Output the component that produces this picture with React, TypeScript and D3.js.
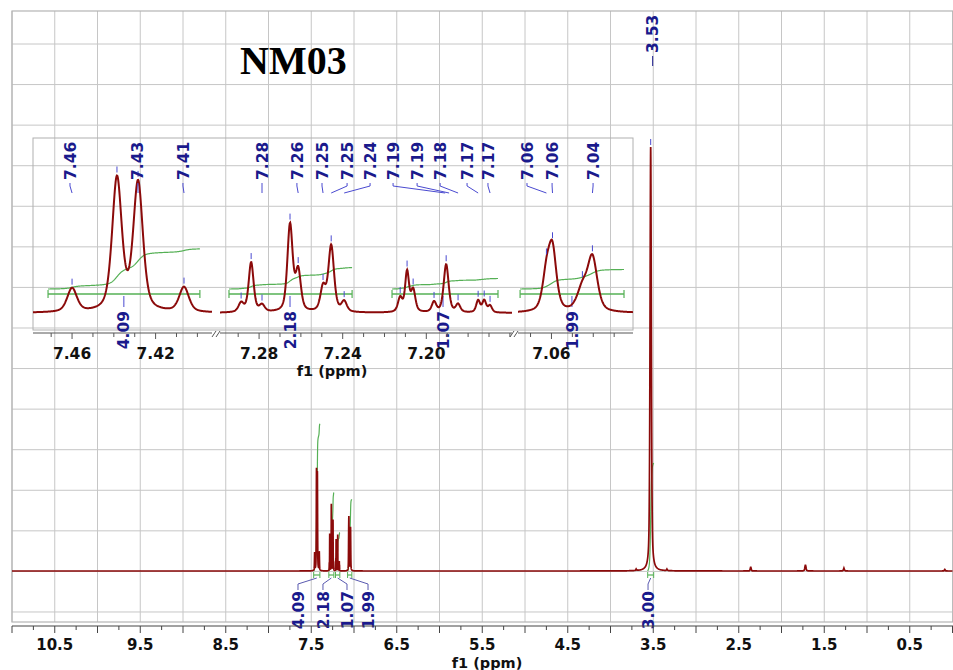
import React, { useMemo } from 'react';
import * as d3 from 'd3';

// ---------- data ----------
const aromaticPpm = [7.46, 7.4385, 7.4284, 7.4064, 7.2886, 7.2838, 7.2786, 7.2652, 7.2613, 7.2494, 7.2455, 7.2393, 7.2125, 7.2092, 7.2063, 7.1963, 7.1905, 7.1848, 7.1752, 7.1723, 7.1695, 7.0624, 7.0595, 7.0452, 7.0404];
const aromaticHeight = [4.2, 23.5, 22.7, 4.4, 1.6, 8.8, 1.2, 15.4, 7.1, 4.2, 11.7, 1.8, 2.5, 7.1, 3.9, 1.8, 8.5, 1.4, 2.1, 2.1, 1.2, 6.1, 10.4, 3.9, 9.4];
const aromaticWidth = [0.0055, 0.0055, 0.0055, 0.0055, 0.003, 0.0028, 0.003, 0.003, 0.003, 0.003, 0.0032, 0.003, 0.0025, 0.0022, 0.0025, 0.0025, 0.0028, 0.0025, 0.0022, 0.0022, 0.0022, 0.0045, 0.0045, 0.006, 0.0055];

const otherPpm = [3.53, 3.70, 3.34, 2.36, 1.72, 1.27, 0.09];
const otherHeight = [100, 0.35, 0.35, 1.0, 1.5, 0.7, 0.35];
const otherWidth = [0.018, 0.01, 0.01, 0.012, 0.015, 0.012, 0.012];

const integralFrom = [7.4715, 7.2944, 7.2164, 7.075, 3.565];
const integralTo = [7.3988, 7.2355, 7.1657, 7.0253, 3.495];
const integralValues = [4.09, 2.18, 1.07, 1.99, 3.0];
const integralMainLabelPpm = [7.655, 7.363, 7.082, 6.836, 3.561];
const integralInsetLabelPpm = [7.4352, 7.2652, 7.192, 7.0502];

const peakLabelText = ['7.46', '7.43', '7.41', '7.28', '7.26', '7.25', '7.25', '7.24', '7.19', '7.19', '7.18', '7.17', '7.17', '7.06', '7.06', '7.04'];
const peakLabelPos = [7.461, 7.4285, 7.4069, 7.2786, 7.2619, 7.2499, 7.2379, 7.2269, 7.2159, 7.2044, 7.1934, 7.1805, 7.1705, 7.0717, 7.0597, 7.0401];
const peakLabelTarget = [7.46, 7.4284, 7.4064, 7.2786, 7.2613, 7.2494, 7.2455, 7.2393, 7.191, 7.1891, 7.1848, 7.1752, 7.1695, 7.0624, 7.0595, 7.0404];

const mainTickLabels = [10.5, 9.5, 8.5, 7.5, 6.5, 5.5, 4.5, 3.5, 2.5, 1.5, 0.5];
const insetTickLabels = [7.46, 7.42, 7.28, 7.24, 7.2, 7.06];
const insetSegFrom = [7.4787, 7.2987, 7.076];
const insetSegTo = [7.393, 7.159, 7.021];
const mainLabelPpm = 3.53;
const titleText = 'NM03';

// ---------- helpers ----------
const allPpm = aromaticPpm.concat(otherPpm);
const allH = aromaticHeight.concat(otherHeight);
const allW = aromaticWidth.concat(otherWidth);

function pv(d: number, w: number) {
  const r = (d / w) * (d / w);
  return 0.5 / (1 + 4 * r) + 0.5 * Math.exp(-4 * Math.LN2 * r);
}
function spec(p: number) {
  let s = 0;
  for (let i = 0; i < allPpm.length; i++) s += allH[i] * pv(p - allPpm[i], allW[i]);
  return s;
}
function cumulative(from: number, to: number, n = 400) {
  const ps = d3.range(n + 1).map((i) => from + ((to - from) * i) / n);
  let acc = 0;
  const c = [0];
  for (let i = 1; i <= n; i++) {
    acc += (spec(ps[i - 1]) + spec(ps[i])) / 2;
    c.push(acc);
  }
  return ps.map((p, i) => ({ p, f: c[i] / acc }));
}

const BLUE = '#1a1a8c';
const RED = '#8b0a0a';
const GREEN = '#55b055';
const GRID = '#c6c6c6';
const LABEL_FONT = "'DejaVu Sans', Verdana, sans-serif";

export default function App() {
  const W = 953, H = 670;
  const xMain = d3.scaleLinear().domain([11, 0]).range([12, 952.5]);
  const yMain = d3.scaleLinear().domain([0, 100]).range([571, 147]);
  const yIntMain = d3.scaleLinear().domain([0, 1]).range([571, 535]);
  const gridY = d3.range(15).map((k) => 44 + k * 40.57);
  const gridX = d3.range(0, 11.01, 0.5);

  const segPx: [number, number][] = [[33, 212], [220, 512], [518, 633]];
  const segScales = insetSegFrom.map((f, i) => d3.scaleLinear().domain([f, insetSegTo[i]]).range(segPx[i]));
  const segOf = (p: number) => {
    for (let i = 0; i < insetSegFrom.length; i++) if (p <= insetSegFrom[i] + 1e-9 && p >= insetSegTo[i] - 1e-9) return i;
    return 0;
  };
  const xIns = (p: number) => segScales[segOf(p)](p);
  const yIns = d3.scaleLinear().domain([0, 10]).range([313, 256.5]);
  const yIntIns = d3.scaleLinear().domain([0, 1]).range([289, 279.2]);

  const mainPath = useMemo(() => {
    const s: number[] = [];
    const pushRange = (a: number, b: number, st: number) => {
      for (let p = a; p > b; p -= st) s.push(p);
    };
    pushRange(11, 7.52, 0.005);
    pushRange(7.52, 6.98, 0.0005);
    pushRange(6.98, 3.62, 0.005);
    pushRange(3.62, 3.45, 0.0005);
    pushRange(3.45, 0, 0.005);
    s.push(0);
    return d3.line<number>().x((p) => xMain(p)).y((p) => yMain(spec(p)))(s) || '';
  }, []);

  const insetPaths = useMemo(
    () =>
      insetSegFrom.map((f, i) => {
        const t = insetSegTo[i];
        const n = Math.round((f - t) / 0.0002);
        const ps = d3.range(n + 1).map((k) => f - ((f - t) * k) / n);
        return d3.line<number>().x((p) => segScales[i](p)).y((p) => yIns(spec(p)))(ps) || '';
      }),
    []
  );

  const mainIntegrals = integralFrom.map((f, i) => {
    const cum = cumulative(f, integralTo[i]);
    return d3.line<{ p: number; f: number }>()
      .x((d) => xMain(d.p))
      .y((d) => yMain(0) - (yMain(0) - yIntMain(1)) * d.f * integralValues[i])(cum) || '';
  });
  const insetIntegrals = integralFrom.slice(0, 4).map((f, i) => {
    const cum = cumulative(f, integralTo[i]);
    return d3.line<{ p: number; f: number }>()
      .x((d) => xIns(d.p))
      .y((d) => yIntIns(0) - (yIntIns(0) - yIntIns(1)) * d.f * integralValues[i])(cum) || '';
  });

  const mainMinor = d3.range(0, 11.001, 0.25);
  const insetTicks = insetSegFrom.map((f, i) => d3.range(Math.ceil(insetSegTo[i] * 100 - 1e-6), Math.floor(f * 100 + 1e-6) + 1).map((k) => k / 100));

  const rotText = (x: number, y: number, txt: string, anchor: 'start' | 'end', size = 15) => (
    <text transform={`translate(${x},${y}) rotate(-90)`} dy="0.36em" textAnchor={anchor} fontFamily={LABEL_FONT} fontWeight="bold" fontSize={size} fill={BLUE}>
      {txt}
    </text>
  );

  const peakTopMain = yMain(spec(mainLabelPpm));

  return (
    <svg width={W} height={H} style={{ position: 'absolute', left: 0, top: 0, background: '#fff' }}>
      <rect x={0} y={0} width={W} height={H} fill="#fff" />
      {gridY.map((y, i) => (
        <line key={'gy' + i} x1={12} x2={953} y1={y} y2={y} stroke={GRID} strokeWidth={1} />
      ))}
      {gridX.map((p, i) => (
        <line key={'gx' + i} x1={xMain(p)} x2={xMain(p)} y1={11} y2={622} stroke={GRID} strokeWidth={1} />
      ))}
      <rect x={12} y={11} width={941} height={611} fill="none" stroke="#b4b4b4" strokeWidth={1.2} />

      <text x={240} y={74} fontFamily="'Liberation Serif', 'Times New Roman', serif" fontWeight="bold" fontSize={40} fill="#000">
        {titleText}
      </text>

      {mainIntegrals.map((d, i) => (
        <path key={'mi' + i} d={d} fill="none" stroke={GREEN} strokeWidth={1.2} />
      ))}
      <path d={mainPath} fill="none" stroke={RED} strokeWidth={1.7} />

      {integralFrom.map((f, i) => {
        const x1 = xMain(f), x2 = xMain(integralTo[i]);
        const xm = (x1 + x2) / 2;
        const lx = xMain(integralMainLabelPpm[i]);
        return (
          <g key={'ml' + i}>
            <line x1={x1} x2={x2} y1={575} y2={575} stroke={GREEN} strokeWidth={1.2} />
            <line x1={x1} x2={x1} y1={572} y2={578} stroke={GREEN} strokeWidth={1} />
            <line x1={x2} x2={x2} y1={572} y2={578} stroke={GREEN} strokeWidth={1} />
            <polyline points={`${xm},578 ${lx},584 ${lx},590`} fill="none" stroke="#5a5ab0" strokeWidth={1} />
            {rotText(lx, 591, integralValues[i].toFixed(2), 'end', 15.5)}
          </g>
        );
      })}

      {rotText(xMain(mainLabelPpm) + 2, 53, mainLabelPpm.toFixed(2), 'start', 15.5)}
      <line x1={xMain(mainLabelPpm) + 2} x2={xMain(mainLabelPpm) + 2} y1={56} y2={66} stroke={BLUE} strokeWidth={1} />
      <line x1={xMain(mainLabelPpm)} x2={xMain(mainLabelPpm)} y1={peakTopMain - 8} y2={peakTopMain - 2} stroke="#4a4ad0" strokeWidth={1} />

      <line x1={12} x2={953} y1={626} y2={626} stroke="#444" strokeWidth={1} />
      {mainMinor.map((p, i) => {
        const major = Math.abs(p * 2 - Math.round(p * 2)) < 1e-6;
        return <line key={'mt' + i} x1={xMain(p)} x2={xMain(p)} y1={626} y2={major ? 633 : 630} stroke="#444" strokeWidth={1} />;
      })}
      {mainTickLabels.map((p, i) => (
        <text key={'mtl' + i} x={xMain(p)} y={650} textAnchor="middle" fontFamily={LABEL_FONT} fontWeight="bold" fontSize={15} fill="#111">
          {p.toFixed(1)}
        </text>
      ))}
      <text x={487} y={668} textAnchor="middle" fontFamily={LABEL_FONT} fontWeight="bold" fontSize={14.5} fill="#111">
        f1 (ppm)
      </text>

      {/* inset */}
      <rect x={33} y={138} width={600} height={192} fill="none" stroke="#b0b0b0" strokeWidth={1} />
      {integralFrom.slice(0, 4).map((f, i) => {
        const x1 = xIns(f), x2 = xIns(integralTo[i]);
        const lx = xIns(integralInsetLabelPpm[i]);
        return (
          <g key={'ir' + i}>
            <line x1={x1} x2={x2} y1={294} y2={294} stroke={GREEN} strokeWidth={1.3} />
            <line x1={x1} x2={x1} y1={290} y2={298} stroke={GREEN} strokeWidth={1.2} />
            <line x1={x2} x2={x2} y1={290} y2={298} stroke={GREEN} strokeWidth={1.2} />
            <path d={insetIntegrals[i]} fill="none" stroke={GREEN} strokeWidth={1.2} />
            <line x1={lx} x2={lx} y1={296} y2={307} stroke="#4a4ad0" strokeWidth={1} />
            {rotText(lx, 311, integralValues[i].toFixed(2), 'end', 15.5)}
          </g>
        );
      })}
      {insetPaths.map((d, i) => (
        <path key={'ip' + i} d={d} fill="none" stroke={RED} strokeWidth={2} />
      ))}
      {aromaticPpm.map((p, i) => {
        const top = yIns(spec(p));
        return <line key={'pt' + i} x1={xIns(p)} x2={xIns(p)} y1={top - 9} y2={top - 3} stroke="#4a4ad0" strokeWidth={1} />;
      })}
      {peakLabelText.map((t, i) => {
        const lx = xIns(peakLabelPos[i]);
        const tx = xIns(peakLabelTarget[i]);
        return (
          <g key={'pl' + i}>
            {rotText(lx, 180, t, 'start', 15.5)}
            <polyline points={`${lx},183 ${lx},186 ${tx},193`} fill="none" stroke="#4a4ad0" strokeWidth={1} />
          </g>
        );
      })}
      {segPx.map((r, i) => (
        <line key={'ia' + i} x1={r[0]} x2={r[1]} y1={333} y2={333} stroke="#555" strokeWidth={1} />
      ))}
      {[212, 510].map((x, i) => (
        <g key={'br' + i}>
          <line x1={x} x2={x + 4} y1={337} y2={331} stroke="#555" strokeWidth={1} />
          <line x1={x + 4} x2={x + 8} y1={337} y2={331} stroke="#555" strokeWidth={1} />
        </g>
      ))}
      {insetTicks.map((ts, i) =>
        ts.map((p, j) => {
          const isLab = insetTickLabels.some((l) => Math.abs(l - p) < 1e-6);
          return <line key={'it' + i + '_' + j} x1={segScales[i](p)} x2={segScales[i](p)} y1={333} y2={isLab ? 339 : 337} stroke="#555" strokeWidth={1} />;
        })
      )}
      {insetTickLabels.map((p, i) => (
        <text key={'itl' + i} x={xIns(p)} y={359} textAnchor="middle" fontFamily={LABEL_FONT} fontWeight="bold" fontSize={15.5} fill="#111">
          {p.toFixed(2)}
        </text>
      ))}
      <text x={332} y={376} textAnchor="middle" fontFamily={LABEL_FONT} fontWeight="bold" fontSize={14.5} fill="#111">
        f1 (ppm)
      </text>
    </svg>
  );
}
